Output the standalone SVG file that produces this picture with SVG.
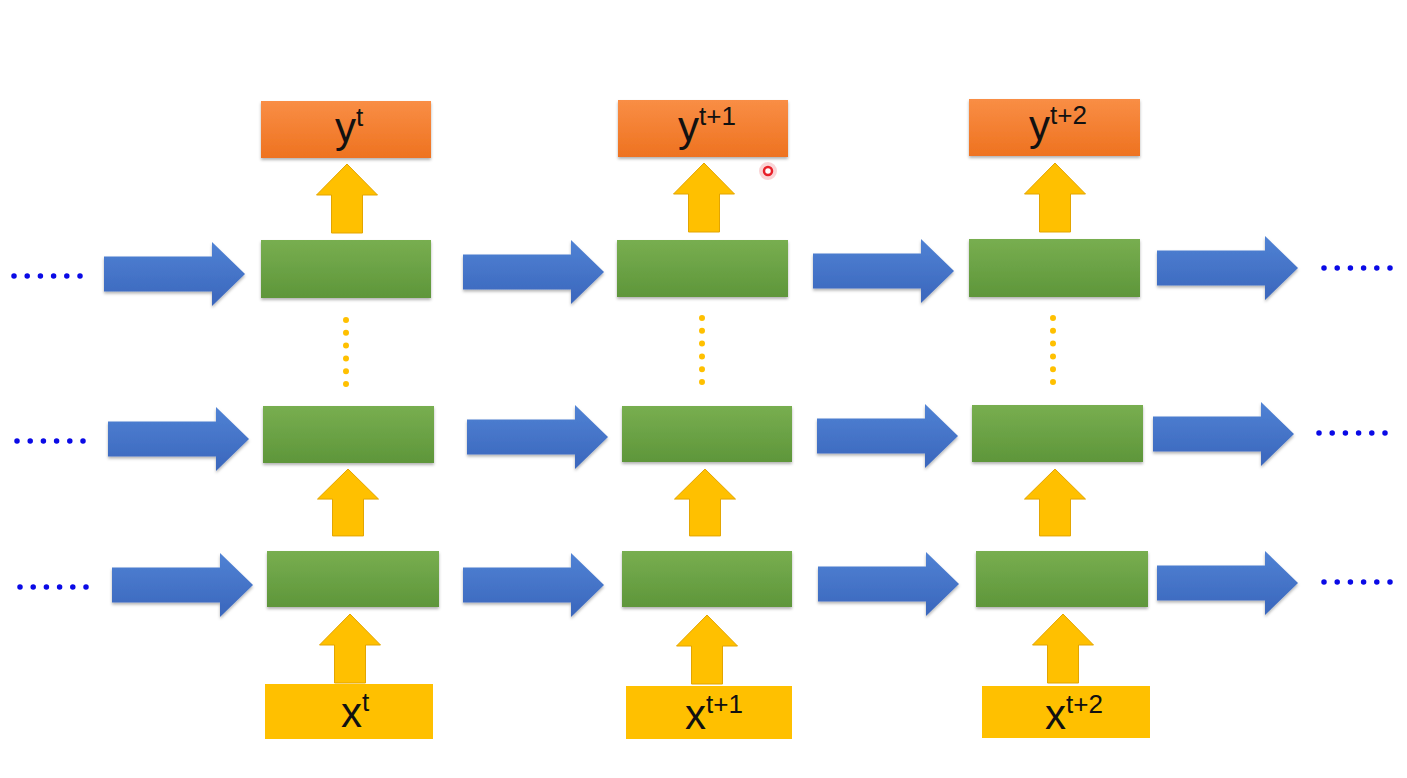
<svg xmlns="http://www.w3.org/2000/svg" width="1407" height="778" viewBox="0 0 1407 778">
  <defs>
    <linearGradient id="gOrange" x1="0" y1="0" x2="0" y2="1">
      <stop offset="0" stop-color="#F98E45"/>
      <stop offset="1" stop-color="#EE7220"/>
    </linearGradient>
    <linearGradient id="gGreen" x1="0" y1="0" x2="0" y2="1">
      <stop offset="0" stop-color="#78AE50"/>
      <stop offset="1" stop-color="#5E963A"/>
    </linearGradient>
    <linearGradient id="gBlue" x1="0" y1="0" x2="0" y2="1">
      <stop offset="0" stop-color="#5082D4"/>
      <stop offset="1" stop-color="#3A66BC"/>
    </linearGradient>
    <filter id="shadow" x="-10%" y="-20%" width="120%" height="150%">
      <feDropShadow dx="0" dy="2" stdDeviation="1.5" flood-color="#000" flood-opacity="0.3"/>
    </filter>
    <path id="blueArrow" d="M0,-17.5 H108 V-32 L141,0 L108,32 V17.5 H0 Z"/>
    <path id="yellowArrow" d="M0,0 L30.5,31 H15.5 V69 H-15.5 V31 H-30.5 Z"/>
    <style>
      .out { fill: url(#gOrange); filter: url(#shadow); }
      .cell { fill: url(#gGreen); filter: url(#shadow); }
      .in { fill: #FFC000; }
      .blue { fill: url(#gBlue); filter: url(#shadow); }
      .yel { fill: #FFC000; stroke: #E3A500; stroke-width: 1; }
      .lbl { font-family: "Liberation Sans", Arial, sans-serif; font-size: 42px; fill: #111; text-anchor: middle; }
      .sup { font-size: 26px; }
      .bdots { stroke: #0A0AE6; stroke-width: 5.5; stroke-linecap: round; stroke-dasharray: 0 13.2; fill: none; }
      .ydots { stroke: #FFC000; stroke-width: 6; stroke-linecap: round; stroke-dasharray: 0 12.8; fill: none; }
    </style>
  </defs>
  <rect width="1407" height="778" fill="#FFFFFF"/>

  <!-- Column 1 -->
  <g id="y_t"><rect class="out" x="261" y="101" width="170" height="57"/>
    <text class="lbl" x="349" y="142">y<tspan class="sup" dy="-16">t</tspan></text></g>
  <g id="h3_t"><rect class="cell" x="261" y="240" width="170" height="58"/></g>
  <g id="h2_t"><rect class="cell" x="263" y="406" width="171" height="57"/></g>
  <g id="h1_t"><rect class="cell" x="267" y="551" width="172" height="56"/></g>
  <g id="x_t"><rect class="in" x="265" y="684" width="168" height="55"/>
    <text class="lbl" x="355" y="727">x<tspan class="sup" dy="-16">t</tspan></text></g>

  <!-- Column 2 -->
  <g id="y_t1"><rect class="out" x="618" y="100" width="170" height="57"/>
    <text class="lbl" x="707" y="141">y<tspan class="sup" dy="-16">t+1</tspan></text></g>
  <g id="h3_t1"><rect class="cell" x="617" y="240" width="171" height="57"/></g>
  <g id="h2_t1"><rect class="cell" x="622" y="406" width="170" height="56"/></g>
  <g id="h1_t1"><rect class="cell" x="622" y="551" width="170" height="56"/></g>
  <g id="x_t1"><rect class="in" x="626" y="686" width="166" height="53"/>
    <text class="lbl" x="714" y="729">x<tspan class="sup" dy="-16">t+1</tspan></text></g>

  <!-- Column 3 -->
  <g id="y_t2"><rect class="out" x="969" y="99" width="171" height="57"/>
    <text class="lbl" x="1058" y="140">y<tspan class="sup" dy="-16">t+2</tspan></text></g>
  <g id="h3_t2"><rect class="cell" x="969" y="239" width="171" height="58"/></g>
  <g id="h2_t2"><rect class="cell" x="972" y="405" width="171" height="57"/></g>
  <g id="h1_t2"><rect class="cell" x="976" y="551" width="172" height="56"/></g>
  <g id="x_t2"><rect class="in" x="982" y="686" width="168" height="52"/>
    <text class="lbl" x="1074" y="729">x<tspan class="sup" dy="-16">t+2</tspan></text></g>

  <!-- Continuation dots -->
  <g id="continuation">
    <line class="bdots" x1="14" y1="276" x2="81" y2="276"/>
    <line class="bdots" x1="17" y1="441" x2="84" y2="441"/>
    <line class="bdots" x1="20" y1="587" x2="87" y2="587"/>
    <line class="bdots" x1="1324" y1="268" x2="1391" y2="268"/>
    <line class="bdots" x1="1319" y1="433" x2="1386" y2="433"/>
    <line class="bdots" x1="1324" y1="582" x2="1391" y2="582"/>
    <line class="ydots" x1="346" y1="320" x2="346" y2="385"/>
    <line class="ydots" x1="702" y1="318" x2="702" y2="383"/>
    <line class="ydots" x1="1053" y1="318" x2="1053" y2="383"/>
  </g>

  <!-- Connectors -->
  <g id="connectors">
    <use href="#blueArrow" class="blue" transform="translate(104,274)"/>
    <use href="#blueArrow" class="blue" transform="translate(463,272)"/>
    <use href="#blueArrow" class="blue" transform="translate(813,271)"/>
    <use href="#blueArrow" class="blue" transform="translate(1157,268)"/>
    <use href="#blueArrow" class="blue" transform="translate(108,439)"/>
    <use href="#blueArrow" class="blue" transform="translate(467,437)"/>
    <use href="#blueArrow" class="blue" transform="translate(817,436)"/>
    <use href="#blueArrow" class="blue" transform="translate(1153,434)"/>
    <use href="#blueArrow" class="blue" transform="translate(112,585)"/>
    <use href="#blueArrow" class="blue" transform="translate(463,585)"/>
    <use href="#blueArrow" class="blue" transform="translate(818,584)"/>
    <use href="#blueArrow" class="blue" transform="translate(1157,583)"/>

    <use href="#yellowArrow" class="yel" transform="translate(347,164)"/>
    <use href="#yellowArrow" class="yel" transform="translate(348,469) scale(1,0.97)"/>
    <use href="#yellowArrow" class="yel" transform="translate(350,614)"/>
    <use href="#yellowArrow" class="yel" transform="translate(704,163)"/>
    <use href="#yellowArrow" class="yel" transform="translate(705,469) scale(1,0.97)"/>
    <use href="#yellowArrow" class="yel" transform="translate(707,615)"/>
    <use href="#yellowArrow" class="yel" transform="translate(1055,163)"/>
    <use href="#yellowArrow" class="yel" transform="translate(1055,469) scale(1,0.97)"/>
    <use href="#yellowArrow" class="yel" transform="translate(1063,614)"/>
  </g>

  <!-- Cursor marker -->
  <g id="cursor">
    <circle cx="768" cy="171" r="9" fill="#F7B7BB" opacity="0.6"/>
    <circle cx="768" cy="171" r="4" fill="#FFFFFF" stroke="#E8202A" stroke-width="2.5"/>
  </g>
</svg>
